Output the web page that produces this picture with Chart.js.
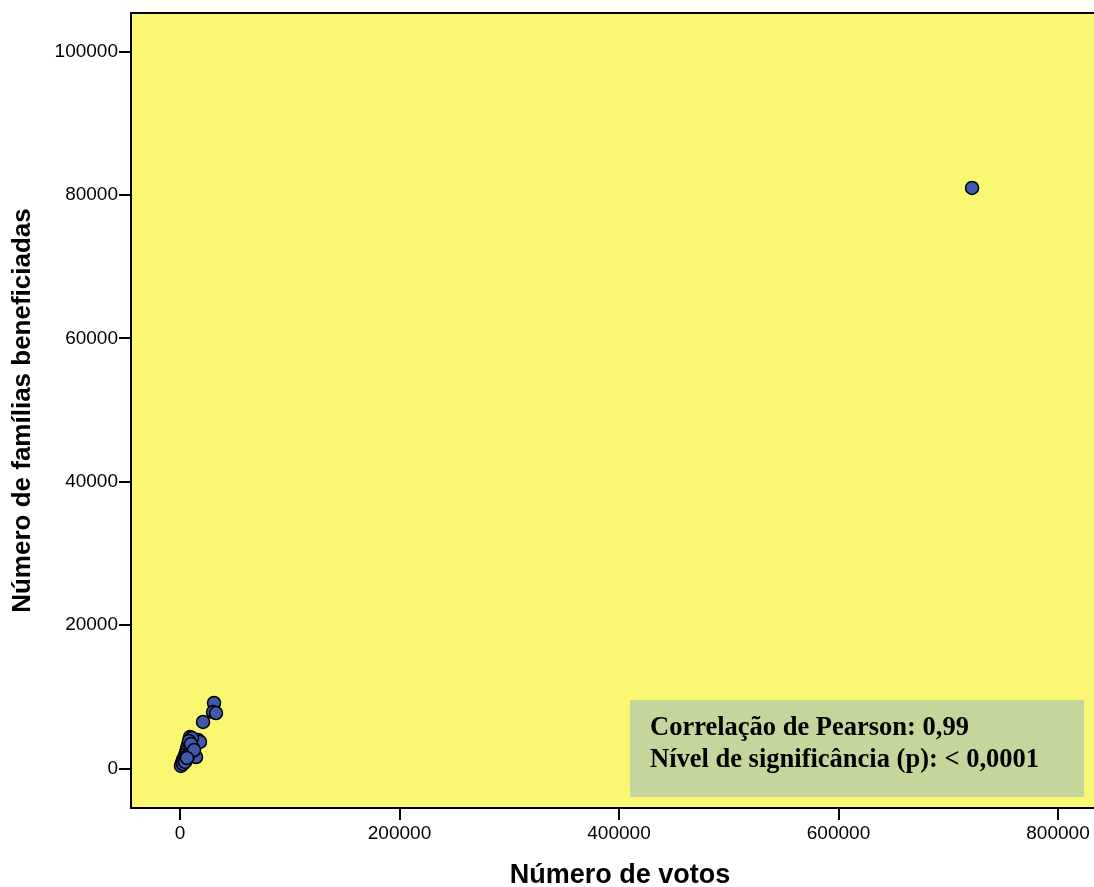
<!DOCTYPE html>
<html>
<head>
<meta charset="utf-8">
<script src="https://cdn.jsdelivr.net/npm/chart.js@4/dist/chart.umd.min.js"></script>
<style>
  html, body { margin: 0; padding: 0; background: #ffffff; }
  #wrap { width: 1094px; height: 887px; position: relative; }
</style>
</head>
<body>
<div id="wrap"><canvas id="c" width="1094" height="887"></canvas></div>
<script>
// Votes received vs. number of beneficiary families, per municipality
const votos = [
  31000, 30100, 32800, 21000, 9100, 16400, 18200, 14600, 10900, 7300,
  6400, 5500, 4600, 3600, 2700, 1800, 900, 11800, 9100, 7300,
  5500, 3600, 8200, 10000, 12800, 2700, 4600, 6400, 721700
];
const familias = [
  9140, 7880, 7740, 6490, 4390, 3980, 3700, 1600, 4250, 3280,
  2860, 2300, 1880, 1460, 1190, 770, 350, 2860, 2300, 1740,
  1190, 910, 3840, 3420, 2580, 630, 910, 1460, 81000
];
const xTicks = [0, 200000, 400000, 600000, 800000];
const yTicks = [0, 20000, 40000, 60000, 80000, 100000];
const xTitle = 'Número de votos';
const statLines = ['Correlação de Pearson: 0,99', 'Nível de significância (p): < 0,0001'];

const points = votos.map((v, i) => ({ x: v, y: familias[i] }));

// Yellow plot background, top frame line and x-axis title
const plotFrame = {
  id: 'plotFrame',
  beforeDraw(chart) {
    const { ctx, chartArea: a } = chart;
    ctx.save();
    ctx.fillStyle = '#faf773';
    ctx.fillRect(a.left, a.top, a.right - a.left, a.bottom - a.top);
    ctx.restore();
  },
  afterDraw(chart) {
    const { ctx, chartArea: a } = chart;
    ctx.save();
    ctx.strokeStyle = '#000';
    ctx.lineWidth = 2;
    ctx.beginPath();
    ctx.moveTo(a.left, a.top);
    ctx.lineTo(a.right, a.top);
    ctx.stroke();
    ctx.fillStyle = '#000';
    ctx.font = 'bold 27px "Liberation Sans", Arial, sans-serif';
    ctx.textAlign = 'center';
    ctx.textBaseline = 'middle';
    ctx.fillText(xTitle, a.left + 489, a.bottom + 68);
    ctx.restore();
  }
};

// Statistics box in the lower right corner
const statBox = {
  id: 'statBox',
  afterDatasetsDraw(chart) {
    const { ctx, chartArea: a } = chart;
    const left = a.left + 499, top = a.bottom - 108, w = 454, h = 97;
    ctx.save();
    ctx.fillStyle = '#c4d69b';
    ctx.fillRect(left, top, w, h);
    ctx.fillStyle = '#000';
    ctx.font = 'bold 26.5px "Liberation Serif", "Times New Roman", serif';
    ctx.textBaseline = 'middle';
    ctx.fillText(statLines[0], left + 20, top + 28);
    ctx.fillText(statLines[1], left + 20, top + 60);
    ctx.restore();
  }
};

const tickFont = { family: '"Liberation Sans", Arial, sans-serif', size: 19 };
const titleFont = { family: '"Liberation Sans", Arial, sans-serif', size: 26, weight: 'bold' };

new Chart(document.getElementById('c'), {
  type: 'scatter',
  data: {
    datasets: [{
      data: points,
      backgroundColor: '#4159aa',
      borderColor: '#000',
      borderWidth: 1.5,
      pointRadius: 6.5,
      pointHoverRadius: 6.5
    }]
  },
  options: {
    responsive: false,
    animation: false,
    layout: { autoPadding: false, padding: { top: 13, right: 0, left: 0, bottom: 0 } },
    plugins: { legend: { display: false }, tooltip: { enabled: false } },
    scales: {
      x: {
        type: 'linear',
        min: -44650,
        max: 832800,
        afterBuildTicks(s) { s.ticks = xTicks.map(v => ({ value: v })); },
        afterFit(s) { s.height = 79; s.paddingLeft = 0; s.paddingRight = 0; },
        ticks: { color: '#000', font: tickFont, padding: 2, maxRotation: 0, callback: v => String(v) },
        grid: { drawOnChartArea: false, drawTicks: true, tickLength: 12, color: '#000', lineWidth: 2 },
        border: { display: true, color: '#000', width: 2 },
        title: { display: false }
      },
      y: {
        type: 'linear',
        min: -5510,
        max: 105400,
        afterBuildTicks(s) { s.ticks = yTicks.map(v => ({ value: v })); },
        afterFit(s) { s.width = 131; s.paddingTop = 0; s.paddingBottom = 0; },
        ticks: { color: '#000', font: tickFont, padding: 1, callback: v => String(v) },
        grid: { drawOnChartArea: false, drawTicks: true, tickLength: 12, color: '#000', lineWidth: 2 },
        border: { display: true, color: '#000', width: 2 },
        title: { display: true, text: 'Número de famílias beneficiadas', color: '#000', font: titleFont, padding: { top: 7, bottom: 0 } }
      }
    }
  },
  plugins: [plotFrame, statBox]
});
</script>
</body>
</html>
